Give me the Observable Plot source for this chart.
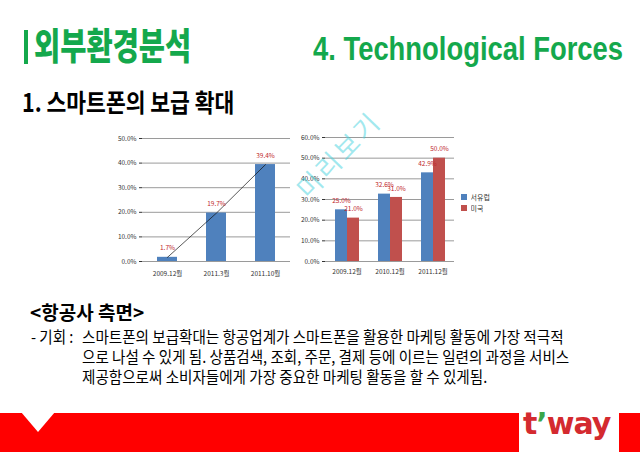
<!DOCTYPE html>
<html><head><meta charset="utf-8">
<script src="https://cdn.jsdelivr.net/npm/d3@7"></script>
<script src="https://cdn.jsdelivr.net/npm/@observablehq/plot@0.6"></script>
<style>
html,body{margin:0;padding:0;background:#fff;}
#slide{position:relative;width:640px;height:452px;overflow:hidden;font-family:"Noto Sans CJK KR","Noto Sans",sans-serif;color:#000;}
.abs{position:absolute;white-space:nowrap;line-height:1;}
#chart1,#chart2,#legend{position:absolute;}
#chart1{left:110px;top:125px;}
#chart2{left:295px;top:125px;}
#legend{left:461px;top:192px;}
</style></head><body>
<div id="slide">
  <div class="abs" style="left:24px;top:30px;width:4px;height:34px;background:#14a84c;"></div>
  <div class="abs" style="left:34px;top:26px;font-size:37px;font-weight:900;color:#14a84c;transform:scaleX(0.77);transform-origin:left top;">외부환경분석</div>
  <div class="abs" style="left:313px;top:32px;font-family:'Liberation Sans',Arial,sans-serif;font-size:33px;font-weight:700;color:#14a84c;transform:scaleX(0.83);transform-origin:left top;">4. Technological Forces</div>
  <div class="abs" style="left:22px;top:89px;font-size:25px;font-weight:700;transform:scaleX(0.86);transform-origin:left top;">1. 스마트폰의 보급 확대</div>

  <div id="chart1"></div>
  <div id="chart2"></div>
  <div id="legend"></div>

  <div class="abs" style="left:284px;top:141px;font-size:26px;letter-spacing:3px;color:rgba(70,210,222,0.5);transform:rotate(-46deg);transform-origin:center;">미리보기</div>

  <div class="abs" style="left:30px;top:302px;font-size:19px;font-weight:700;">&lt;항공사 측면&gt;</div>
  <div class="abs" style="left:31px;top:328px;font-size:16px;transform:scaleX(0.91);transform-origin:left top;">- 기회 :</div>
  <div class="abs" style="left:82px;top:328px;font-size:16px;transform:scaleX(0.91);transform-origin:left top;">스마트폰의 보급확대는 항공업계가 스마트폰을 활용한 마케팅 활동에 가장 적극적</div>
  <div class="abs" style="left:82px;top:348px;font-size:16px;transform:scaleX(0.91);transform-origin:left top;">으로 나설 수 있게 됨. 상품검색, 조회, 주문, 결제 등에 이르는 일련의 과정을 서비스</div>
  <div class="abs" style="left:82px;top:368px;font-size:16px;transform:scaleX(0.91);transform-origin:left top;">제공함으로써 소비자들에게 가장 중요한 마케팅 활동을 할 수 있게됨.</div>

  <div class="abs" style="left:0;top:413px;width:640px;height:39px;background:#ff0000;"></div>
  <svg class="abs" style="left:0;top:412px;" width="80" height="24"><polygon points="21,0 55,0 38,20" fill="#fff"/></svg>
  <div class="abs" style="left:519px;top:413px;width:100px;height:39px;background:#fff;"></div>
  <div class="abs" style="left:523px;top:409px;font-family:'DejaVu Sans',sans-serif;font-size:30px;font-weight:700;letter-spacing:-1px;color:#d42a2f;">t<span style="color:#3aa64a;">’</span>way</div>
</div>
<script>
// ---- data ----
const cats1 = ["2009.12월", "2011.3월", "2011.10월"];
const vals1 = [1.7, 19.7, 39.4];
const yTicks1 = [0, 10, 20, 30, 40, 50];

const cats2 = ["2009.12월", "2010.12월", "2011.12월"];
const series2 = ["서유럽", "미국"];
const westEurope = [25.0, 32.6, 42.9];
const usa = [21.0, 31.0, 50.0];
const yTicks2 = [0, 10, 20, 30, 40, 50, 60];

const blue = "#4f81bd", red = "#c0504d", labelRed = "#c0282d", gridGray = "#9a9a9a";
const fontFam = "'Noto Sans CJK KR', 'DejaVu Sans', sans-serif";
const pct = d => d.toFixed(1) + "%";

const data1 = cats1.map((c, i) => ({cat: c, v: vals1[i]}));
const data2 = [];
cats2.forEach((c, i) => {
  data2.push({cat: c, s: series2[0], v: westEurope[i]});
  data2.push({cat: c, s: series2[1], v: usa[i]});
});

const chart1 = Plot.plot({
  width: 185, height: 160,
  marginLeft: 32, marginRight: 5, marginTop: 13, marginBottom: 24,
  style: {fontSize: "6.5px", fontFamily: fontFam, background: "transparent", color: "#333"},
  x: {domain: cats1, paddingInner: 0.6, paddingOuter: 0.3, label: null, tickSize: 0, tickPadding: 10},
  y: {domain: [0, 50], ticks: yTicks1, tickFormat: pct, label: null, tickSize: 3, tickPadding: 3},
  marks: [
    Plot.ruleY(yTicks1, {stroke: gridGray, strokeWidth: 1}),
    Plot.barY(data1, {x: "cat", y: "v", fill: blue}),
    Plot.line(data1, {x: "cat", y: "v", stroke: "#111", strokeWidth: 0.7}),
    Plot.text(data1, {x: "cat", y: "v", text: d => pct(d.v), dy: -9, fill: labelRed, fontSize: 6.5})
  ]
});
document.getElementById("chart1").appendChild(chart1);

const chart2 = Plot.plot({
  width: 165, height: 160,
  marginLeft: 30, marginRight: 6, marginTop: 12, marginBottom: 24,
  style: {fontSize: "6.5px", fontFamily: fontFam, background: "transparent", color: "#333"},
  facet: {data: data2, x: "cat"},
  fx: {domain: cats2, padding: 0, label: null, axis: "bottom", tickSize: 0, tickPadding: 8},
  x: {domain: series2, axis: null, paddingInner: 0, paddingOuter: 0.76},
  y: {domain: [0, 60], ticks: yTicks2, tickFormat: pct, label: null, tickSize: 3, tickPadding: 3},
  color: {domain: series2, range: [blue, red]},
  marks: [
    Plot.ruleY(yTicks2, {stroke: gridGray, strokeWidth: 1}),
    Plot.barY(data2, {x: "s", y: "v", fill: "s"}),
    Plot.text(data2, {x: "s", y: "v", text: d => pct(d.v), dy: -9, fill: labelRed, fontSize: 6.5})
  ]
});
document.getElementById("chart2").appendChild(chart2);

const legend = Plot.legend({
  color: {domain: series2, range: [blue, red]},
  legend: "swatches", columns: 1, swatchSize: 6,
  style: {fontSize: "7px", fontFamily: fontFam, color: "#333"}
});
document.getElementById("legend").appendChild(legend);
</script>
</body></html>
